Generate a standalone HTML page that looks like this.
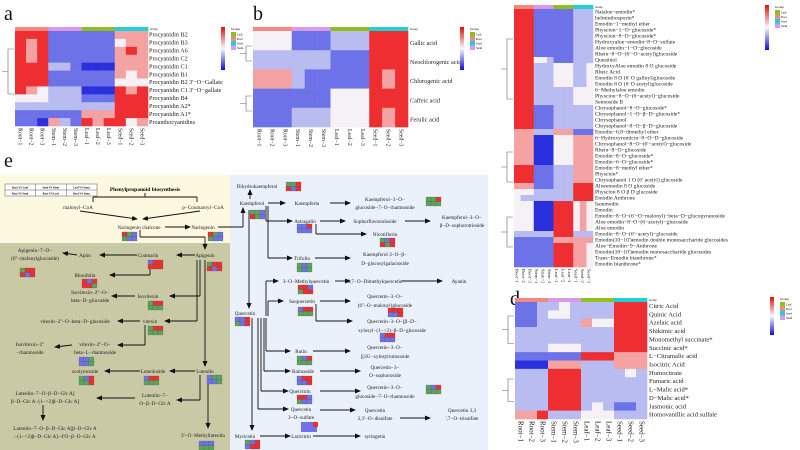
<!DOCTYPE html>
<html><head><meta charset="utf-8">
<style>
html,body{margin:0;padding:0;background:#fff;}
svg{display:block;font-family:"Liberation Serif",serif;}
</style></head><body>
<svg id="s" width="800" height="450" viewBox="0 0 800 450" xmlns="http://www.w3.org/2000/svg">
<defs>
<marker id="ar" markerWidth="6" markerHeight="6" refX="5" refY="3" orient="auto" markerUnits="userSpaceOnUse"><path d="M0,0.5 L6,3 L0,5.5 z" fill="#111"/></marker>
<linearGradient id="lg" x1="0" y1="0" x2="0" y2="1"><stop offset="0" stop-color="#e01010"/><stop offset="0.5" stop-color="#f8f8fa"/><stop offset="1" stop-color="#1010d8"/></linearGradient>
</defs>
<rect x="0" y="175" width="230" height="68" fill="#fdf8e0"/>
<rect x="0" y="243" width="230" height="207" fill="#c9c9a5"/>
<rect x="230" y="175" width="258" height="275" fill="#eaf1fa"/>
<g font-size="20" fill="#111"><text x="4" y="20">a</text><text x="253" y="20">b</text><text x="518" y="20">c</text><text x="510" y="305">d</text><text x="4" y="167">e</text></g>
<g id="g"></g>
</svg>
<script>
var S=document.getElementById('g'),NS='http://www.w3.org/2000/svg';
function el(t,a,txt){var e=document.createElementNS(NS,t);for(var k in a)e.setAttribute(k,a[k]);if(txt!==undefined)e.textContent=txt;S.appendChild(e);return e;}
var C={R:'#ee2e30',r:'#f4a2a2',w:'#f5f1f5',b:'#b9bcf0',B:'#6d72e8',D:'#2a30de',G:'#5aa55a'};
var GC=['#f4877e','#d99ae8','#8fbf1f','#20d0d8'];
function heat(x,y,w,h,rows,labels,fs,lx,cols){
 var n=rows.length,ch=h/n,cw=w/12;
 for(var g=0;g<4;g++)el('rect',{x:x+g*3*cw,y:y-4,width:3*cw+0.3,height:4,fill:GC[g]});
 el('text',{x:x+w+2,y:y-1,'font-size':3},'Group');
 rows.forEach(function(r,i){for(var j=0;j<12;j++)el('rect',{x:x+j*cw,y:y+i*ch,width:cw+0.3,height:ch+0.3,fill:C[r[j]]});
  el('text',{x:lx,y:y+i*ch+ch*0.72,'font-size':fs,fill:'#222'},labels[i]);});
 var cl=['Root\u22121','Root\u22122','Root\u22123','Stem\u22121','Stem\u22122','Stem\u22123','Leaf\u22121','Leaf\u22122','Leaf\u22123','Seed\u22121','Seed\u22122','Seed\u22123'];
 for(var j=0;j<12;j++){var cx=x+j*cw+cw/2-2,cy=y+h+2;el('text',{x:cx,y:cy,'font-size':cols,transform:'rotate(90 '+cx+' '+cy+')',fill:'#222'},cl[j]);}
}
function legend(x,y,h){el('rect',{x:x,y:y,width:4,height:h,fill:'url(#lg)'});
 var sw=['Leaf','Root','Seed','Stem'],sc=['#8fbf1f','#f4877e','#20d0d8','#d99ae8'];
 el('text',{x:x+10,y:y+3,'font-size':3.5},'Group');
 for(var i=0;i<4;i++){el('rect',{x:x+10,y:y+5+i*4.5,width:5,height:4.5,fill:sc[i]});el('text',{x:x+16,y:y+8.5+i*4.5,'font-size':3},sw[i]);}}
function dend(x,y,h){el('path',{d:'M'+x+','+(y+h*0.2)+' h-6 v'+(h*0.5)+' h6 M'+(x-6)+','+(y+h*0.45)+' h-6',fill:'none',stroke:'#666','stroke-width':0.6});}
// a
heat(15,31,133,95,["RRRBBBBBBrrr","RrRBBBBBBwrr","RrRBBBBBBrRr","RrRBBBBBBrrr","RRRbbBDDDrrr","RRRBBBBBBrwr","RRRBBBBBBwww","RrwbbbDDDRrR","wwwbbbBBBRRR","bbbbbbbbbRRR","BBBBBBrrrRRR","BBDrbBRrRRwr"],
["Procyanidin B2","Procyanidin B3","Procyanidin A6","Procyanidin C2","Procyanidin C1","Procyanidin B1","Procyanidin B2 3'\u2212O\u2212Gallate","Procyanidin C1 3'\u2212O\u2212gallate","Procyanidin B4","Procyanidin A2*","Procyanidin A1*","Proanthocyanidins"],6.2,149,5.8);
dend(14,31,90);legend(221,27,43);
// b
heat(253,31,155,96,["wwwBBBbbbRRR","bbbbbbBBBRRR","rrrbBBBBBRrR","BBBBBBwwwRRR","BBBbbbwwwRrR"],["Gallic acid","Neochlorogenic acid","Chlorogenic acid","Caffeic acid","Ferulic acid"],6.2,410,5.8);
dend(252,40,30);dend(252,90,30);legend(460,27,43);
// c
var cr=[],cp=function(s,k){for(var i=0;i<k;i++)cr.push(s);};
cp("RRRBBBBBBbbb",8);cp("RRRwwbBBBbbb",1);cp("RRRbbbwwwbbw",4);cp("RRRbbbbbbwww",3);cp("RRRBBBbbbbbb",4);cp("rrrbbbrrrBBB",1);cp("rrrDDDwwwrrr",5);cp("RRRBBBbbbrrr",3);cp("rrrBBBbbbRRR",1);cp("wwwbbbbbbRRR",1);cp("wbbbbbbbbRRR",1);cp("wwwDDDRRRwrw",5);cp("bbbbbbRRRbbb",1);cp("BBBBBBrrrrrr",1);cp("BBBBBBRRRrrw",4);
heat(514,9,79,258,cr,["Nataloe\u2212emodin*","helminthosporin*","Emodin\u22121\u2212methyl ether","Physcion\u22121\u2212O\u2212glucoside*","Physcion\u22128\u2212O\u2212glucoside*","Hydroxyaloe\u2212emodin\u22128\u2212O\u2212sulfate","Aloe emodin\u22121\u2212O\u2212glucoside","Rhein\u22128\u2212O\u2212(6'\u2212O\u2212acetyl)glucoside","Questinol","HydroxyAloe emodin 8 O glucoside","Rheic Acid","Emodin 8 O (6' O galloyl)glucoside","Emodin 8 O (6' O acetyl)glucoside","6\u2212Methylaloe emodin","Physcion\u22128\u2212O\u2212(6\u2212acetyl)\u2212glucoside","Sennoside B","Chrysophanol\u22128\u2212O\u2212glucoside*","Chrysophanol\u22121\u2212O\u2212\u03b2\u2212D\u2212glucoside*","Chrysophanol","Chrysophanol\u22128\u2212O\u2212\u03b2\u2212D\u2212glucoside","Emodin\u22126,8\u2212dimethyl ether","6\u2212Hydroxyrumicin\u22128\u2212O\u2212D\u2212glucoside","Chrysophanol\u22128\u2212O\u2212(6'\u2212acetyl)\u2212glucoside","Rhein\u22128\u2212O\u2212glucoside","Emodin\u22128\u2212O\u2212glucoside*","Emodin\u22126\u2212O\u2212glucoside*","Emodin\u22128\u2212methyl ether*","Physcion*","Chrysophanol 1 O (6' acetyl) glucoside","Aloeemodin 8 O glucoside","Physcion 8 O \u03b2 D glucoside","Emodin Anthrone","Isoemodin","Emodin","Emodin\u22128\u2212O\u2212(6'\u2212O\u2212malonyl)\u2212beta\u2212D\u2212glucopyranoside","Aloe emodin\u22128\u2212O\u2212(6\u2212acetyl)\u2212glucoside","Aloe emodin","Emodin\u22128\u2212O\u2212(6'\u2212acetyl)\u2212glucoside","Emodin(10\u221210')emodin double monosaccharide glucosides","Aloe\u2212Emodin\u22129\u2212Anthrone","Emodin(10\u221210')emodin monosaccharide glucosides","Trans\u2212Emodin bianthrone*","Emodin bianthrone*"],5.6,595,4.6);
dend(513,15,120);dend(513,140,60);dend(513,205,60);legend(765,5,45);
// d
heat(515,302,132,117,["BBbbwbbbbRRR","BBbwwbbbbRRR","BBbbbbrwwRRR","bbbbbbbbbRRR","bbbbbbbbbRRR","bbbwwwbbbRRR","BBBBBBRRRrrr","DDDrrrbbbrrr","bbbRRRbbbbwb","bbbRRRbbbbbb","bbbRRRbbbbbb","bbbRRRbbbbbb","bbbRRRbwbBBb","rrRbbbwwwbbb"],
["Citric Acid","Quinic Acid","Azelaic acid","Shikimic acid","Monomethyl succinate*","Succinic acid*","L\u2212Citramalic acid","Isocitric Acid","Homocitrate","Fumaric acid","L\u2212Malic acid*","D\u2212Malic acid*","Jasmonic acid","Homovanillic acid sulfate"],6.6,649,7);
dend(514,305,55);dend(514,370,45);legend(770,297,38);
// e legend table
el('rect',{x:5,y:184,width:92,height:12,fill:'#fff',stroke:'#333','stroke-width':0.4});
el('path',{d:'M5,190H97M35.7,184V196M66.3,184V196',stroke:'#333','stroke-width':0.4});
[["Root VS Leaf","Seed VS Stem","Leaf VS Stem"],["Root VS Seed","Root VS Leaf","Root VS Stem"]].forEach(function(r,i){r.forEach(function(t,j){el('text',{x:20+j*30.7,y:188.5+i*6,'font-size':2.8,'text-anchor':'middle','font-weight':'bold'},t);});});
el('text',{x:145,y:191,'font-size':5.5,'font-weight':'bold','text-anchor':'middle'},'Phenylpropanoid biosynthesis');
var L=[[145,193,145,197,0],[93,197,197,197,0],[93,197,93,202,0],[197,197,197,202,0],
[80,211,137,219,1],[200,211,143,219,1],[165,227,190,227,1],[140,230,140,237,0],[140,237,205,237,0],[205,237,205,249,1],
[218,227,243,227,0],[243,227,243,208,1],[195,255,177,255,1],[137,255,100,255,1],[77,255,63,253,1],
[150,260,150,275,0],[150,275,110,275,1],[200,260,200,296,0],[200,296,170,296,1],[197,260,197,321,0],[197,321,165,321,1],
[135,296,112,296,1],[140,321,118,321,1],[145,325,145,345,0],[145,345,118,345,1],[72,345,55,347,1],
[205,260,205,366,1],[195,371,170,371,1],[140,371,105,371,1],[200,375,200,400,0],[200,400,177,400,1],[135,398,97,398,1],
[43,405,43,420,1],[208,376,208,428,1],
[250,199,250,190,1],[268,203,285,203,1],[330,203,350,203,1],[266,206,266,221,0],[266,221,292,221,1],[320,221,345,221,1],[405,221,430,221,1],
[316,224,316,234,0],[316,234,366,234,1],[268,206,268,258,0],[268,258,292,258,1],[315,258,350,258,1],[249,210,249,308,1],
[266,316,266,281,0],[266,281,278,281,1],[268,316,268,301,0],[268,301,283,301,1],[266,318,266,351,0],[266,351,290,351,1],[264,318,264,371,0],[264,371,290,371,1],
[261,318,261,391,0],[261,391,288,391,1],[258,318,258,409,0],[258,409,288,409,1],[252,318,252,430,1],[260,436,290,436,1],[313,436,360,436,1],
[335,281,350,281,1],[402,281,442,281,1],[320,301,350,301,1],[316,304,316,321,0],[316,321,352,321,1],[313,351,350,351,1],[320,371,360,371,1],[320,391,360,391,1],[320,410,355,410,1],[400,418,430,418,1]];
L.forEach(function(l){var a={x1:l[0],y1:l[1],x2:l[2],y2:l[3],stroke:'#111','stroke-width':0.9};if(l[4])a['marker-end']='url(#ar)';el('line',a);});
var N=[["malonyl\u2212CoA",78,209],["p\u2212Coumaroyl\u2212CoA",203,209],["Naringenin chalcone",139,229],["Naringenin",203,229],
["Apigenin",205,257],["Coumarin",148,257],["Apiin",85,257],["Apigenin\u22127\u2212O\u2212",35,252],["(6''\u2212malonylglucoside)",35,260],
["Rhoofolin",85,277],["Isovitexin\u22122''\u2212O\u2212",90,294],["beta\u2212D\u2212glucoside",90,302],["Isovitexin",148,298],
["vitexin\u22122''\u2212O\u2212beta\u2212D\u2212glucoside",75,323],["vitexin",150,323],["Isovitexin\u22122''",30,346],["\u2212rhamnoside",30,354],
["vitexin\u22122''\u2212O\u2212",95,346],["beta\u2212L\u2212rhamnoside",95,354],["scolymoside",85,373],["Luteoloside",153,373],["Luteolin",205,373],
["Luteolin\u22127\u2212O\u2212\u03b2\u2212D\u2212Glc A]",45,395],["\u03b2\u2212D\u2212Glc A\u2212(1\u2212>2)\u03b2\u2212D\u2212Glc A]",45,403],["Luteolin\u22127\u2212",155,397],["O\u2212\u03b2\u2212D\u2212Glc A",155,405],
["Luteolin\u22127\u2212O\u2212\u03b2\u2212D\u2212Glc A[\u03b2\u2212D\u2212Glc A",55,430],["\u2212(1\u2212>2)\u03b2\u2212D\u2212Glc A]\u22124'O\u2212\u03b2\u2212D\u2212Glc A",55,438],["3'\u2212O\u2212Methylluteolin",203,437],
["Dihydrokaempferol",257,188],["Kaempferol",252,205],["Kaempferin",307,205],["Kaempferol\u22123\u2212O\u2212",385,201],["glucoside\u22127\u2212O\u2212rhamnoside",385,209],
["Astragalin",305,223],["Sophorflavonoloside",375,223],["Kaempferol\u22123\u2212O\u2212",462,219],["\u03b2\u2212D\u2212sophorotrioside",462,227],["Nicotiflorin",385,236],
["Trifolin",302,260],["Kaempferol 3\u2212O\u2212\u03b2\u2212",385,256],["D\u2212glucosylgalactoside",385,265],
["3\u2212O\u2212Methylquercetin",306,283],["3,7\u2212O\u2212Dimethylquercetin",375,283],["Ayanin",459,283],["Isoquercetin",302,303],
["Quercetin\u22123\u2212O\u2212",385,298],["(6''\u2212O\u2212malonyl)glucoside",385,307],["Quercetin",245,315],
["Quercetin\u22123\u2212O\u2212[\u03b2\u2212D\u2212",392,323],["xylosyl\u2212(1\u2212>2)\u2212\u03b2\u2212D\u2212glucoside",392,332],
["Rutin",301,353],["Quercetin\u22123\u2212O\u2212",385,349],["[(2G\u2212xylosylrutinoside",385,358],["Baimaside",303,373],["Quercetin\u22123\u2212",385,369],["O\u2212sophoroside",385,377],
["Quercitrin",300,393],["Quercetin\u22123\u2212O\u2212",385,389],["glucoside\u22127\u2212O\u2212rhamnoside",385,398],["Quercetin",301,411],["3\u2212O\u2212sulfate",301,419],
["Quercetin",375,412],["3,3'\u2212O\u2212disulfate",375,420],["Quercetin 3,3",462,412],["',7\u2212O\u2212trisulfate",462,420],["Myricetin",245,438],["Laricitrin",301,438],["syringetin",375,438]];
N.forEach(function(n){el('text',{x:n[1],y:n[2],'font-size':5.2,'text-anchor':'middle',fill:'#222'},n[0]);});
var B=[[122,232,"RGBGBB"],[208,232,"RGBGBB"],[148,260,"BRRRRR"],[207,262,"GRRRBR"],[20,268,"GRRRBR"],[82,279,"RBRRRG"],[148,301,"GRRGGG"],[148,326,"GRRGGG"],[79,357,"BBGBBG"],[79,376,"GBRGGR"],[144,376,"BRRGGG"],[207,375,"BGGBBG"],[199,441,"BBBGGG"],
[286,182,"GGRRBR"],[250,210,"GGBRGB"],[426,197,"GGRGGG"],[297,224,"BBRBBB"],[380,238,"GBRRGR"],[297,263,"GBGGBG"],[298,285,"RRBGRR"],[298,307,"BRRGGG"],[235,317,"BBRGBR"],[388,308,"RRRBBR"],[380,333,"BRRBBB"],[297,356,"GBRGGG"],[297,376,"BRRBBR"],[297,395,"RRBGBB"],[426,385,"GBRGGG"],[245,440,"GBRBRR"]];
B.forEach(function(b){for(var i=0;i<6;i++){el('rect',{x:b[0]+(i%3)*5,y:b[1]+Math.floor(i/3)*4.5,width:5,height:4.5,fill:C[b[2][i]],stroke:'#555','stroke-width':0.2});}});
el('rect',{x:301,y:422,width:16,height:10,fill:C.B});el('rect',{x:313,y:422,width:5,height:5,fill:C.R});
</script>
</body></html>
